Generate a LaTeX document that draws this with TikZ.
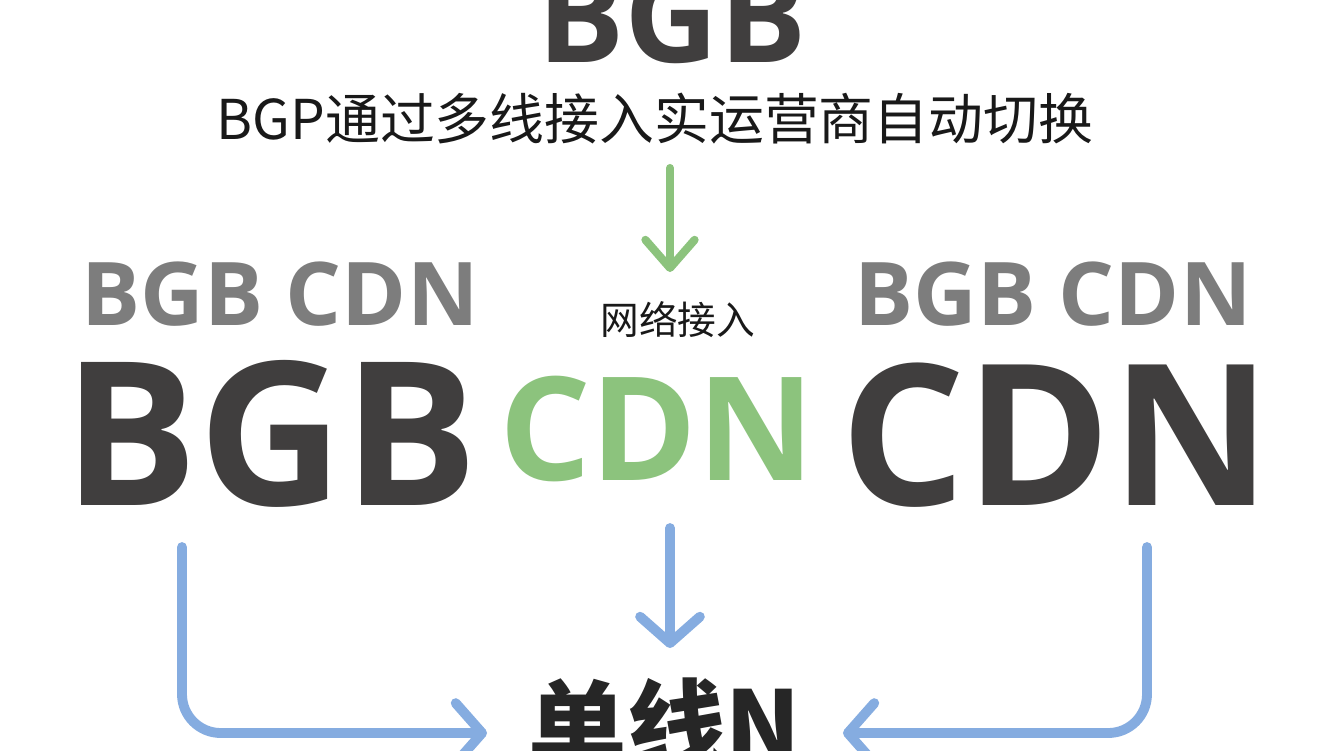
\documentclass[tikz,border=0pt]{standalone}
\usepackage{fontspec}
\setmainfont{Open Sans}
\newfontfamily\cjk{Noto Sans CJK SC}
\usetikzlibrary{arrows.meta}
\definecolor{inkdark}{RGB}{64,62,62}
\definecolor{inkgray}{RGB}{125,125,125}
\definecolor{leaf}{RGB}{140,195,125}
\definecolor{sky}{RGB}{133,172,224}
\tikzset{
  word/.style={inner sep=0pt, anchor=base, text=inkdark},
  greenflow/.style={leaf, line width=2.3pt, -{Straight Barb[round, length=8pt, width=14pt]}},
  blueflow/.style={sky, line width=2.8pt, rounded corners=11pt, -{Straight Barb[round, length=7.5pt, width=17pt]}}
}
\begin{document}
\begin{tikzpicture}[x=0.01cm, y=-0.01cm, line join=round, line cap=round]
\def\W{1344} \def\H{750} % khung
\useasboundingbox (0,0) rectangle (\W,\H);
\fill[white] (0,0) rectangle (\W,\H);
% chu
\node[word, font=\bfseries\fontsize{37}{37}\selectfont] (top) at (672,62) {BGB};
\node[word, font=\cjk\fontsize{15.6}{15.6}\selectfont, text=black!90] (subline) at (655,139) {BGP通过多线接入实运营商自动切换};
\node[word, font=\cjk\fontsize{11}{11}\selectfont, text=black!90] (netin) at (678,334) {网络接入};
\node[word, font=\bfseries\fontsize{25}{25}\selectfont, text=inkgray] (grayL) at (280,325) {BGB CDN};
\node[word, font=\bfseries\fontsize{25}{25}\selectfont, text=inkgray] (grayR) at (1053,325) {BGB CDN};
\node[word, font=\bfseries\fontsize{57}{57}\selectfont] (bgbL) at (271,505) {BGB};
\node[word, font=\bfseries\fontsize{41}{41}\selectfont, text=leaf] (cdnM) at (657,480) {CDN};
\node[word, font=\bfseries\fontsize{56}{56}\selectfont] (cdnR) at (1056,505) {CDN};
\node[word, font=\cjk\bfseries\fontsize{28}{28}\selectfont, text=black!85] (single) at (665,762) {单线N};
% mui ten
\coordinate (gA) at (670,168); \coordinate (gB) at (670,272);
\draw[greenflow] (gA) -- (gB);
\coordinate (lA) at (182,547); \coordinate (lB) at (487,733);
\coordinate (mA) at (670,528); \coordinate (mB) at (670,648);
\coordinate (rA) at (1147,547); \coordinate (rB) at (843,733);
\draw[blueflow] (lA) |- (lB);
\draw[blueflow] (mA) -- (mB);
\draw[blueflow] (rA) |- (rB);
\end{tikzpicture}
\end{document}
